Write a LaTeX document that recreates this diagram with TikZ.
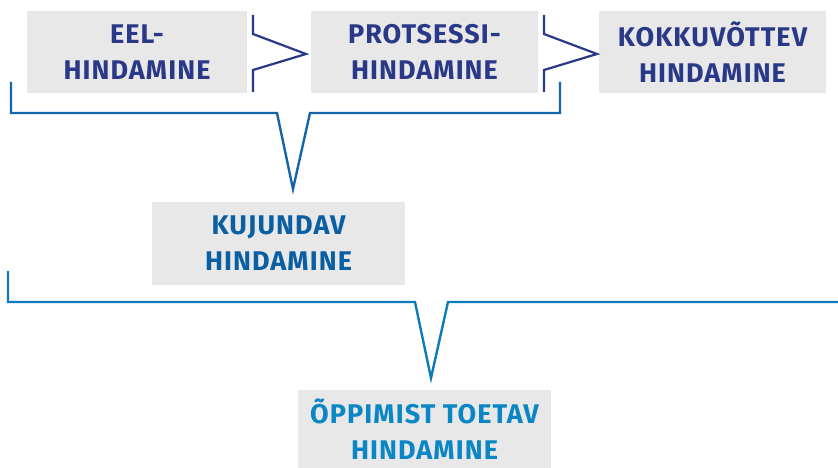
\documentclass[tikz,border=0pt]{standalone}
\usepackage{fontspec}
\setmainfont{Fira Sans}[LetterSpace=4]
\definecolor{navy}{RGB}{41,56,135}
\definecolor{kujblue}{RGB}{10,94,162}
\definecolor{oppblue}{RGB}{10,134,196}
\definecolor{topbr}{RGB}{22,100,168}
\definecolor{botbr}{RGB}{10,124,190}
\definecolor{boxgray}{RGB}{232,232,232}
\begin{document}
\begin{tikzpicture}[x=1pt,y=-1pt,
  box/.style={fill=boxgray, inner sep=0pt, align=center,
    font=\bfseries\fontsize{27}{36}\selectfont},
  chev/.style={draw=navy, line width=2.2pt},
  brk/.style={line width=2.4pt}]
\useasboundingbox (0,0) rectangle (838,468);
\node[box, text=navy, minimum width=220pt, minimum height=82pt] (eel) at (137,52) {EEL-\\HINDAMINE};
\node[box, text=navy, minimum width=227pt, minimum height=82pt] (prot) at (424.5,52) {PROTSESSI-\\HINDAMINE};
\node[box, text=navy, minimum width=227pt, minimum height=82pt] (kokk) at (712.5,52) {KOKKUVÕTTEV\\HINDAMINE};
\node[box, text=kujblue, minimum width=253pt, minimum height=83pt] (kuj) at (278.5,243.5) {KUJUNDAV\\HINDAMINE};
\node[box, text=oppblue, minimum width=253pt, minimum height=78pt] (opp) at (424.5,429) {ÕPPIMIST TOETAV\\HINDAMINE};
% chevrons
\draw[chev] (253,15) -- (253,34) -- (306,54) -- (253,70) -- (253,92);
\draw[chev] (544,15) -- (544,34) -- (597,54) -- (544,70) -- (544,92);
% top bracket
\coordinate (t1) at (11,82);
\coordinate (t2) at (560,82);
\coordinate (ttip) at (293,189);
\draw[brk, draw=topbr] (t1) -- (11,113) -- (277,113) -- (ttip) -- (310,113) -- (560,113) -- (t2);
% bottom bracket
\coordinate (b1) at (8,271);
\coordinate (b2) at (838,302);
\coordinate (btip) at (431,378);
\draw[brk, draw=botbr] (b1) -- (8,302) -- (415,302) -- (btip) -- (448,302) -- (b2);
\end{tikzpicture}
\end{document}
